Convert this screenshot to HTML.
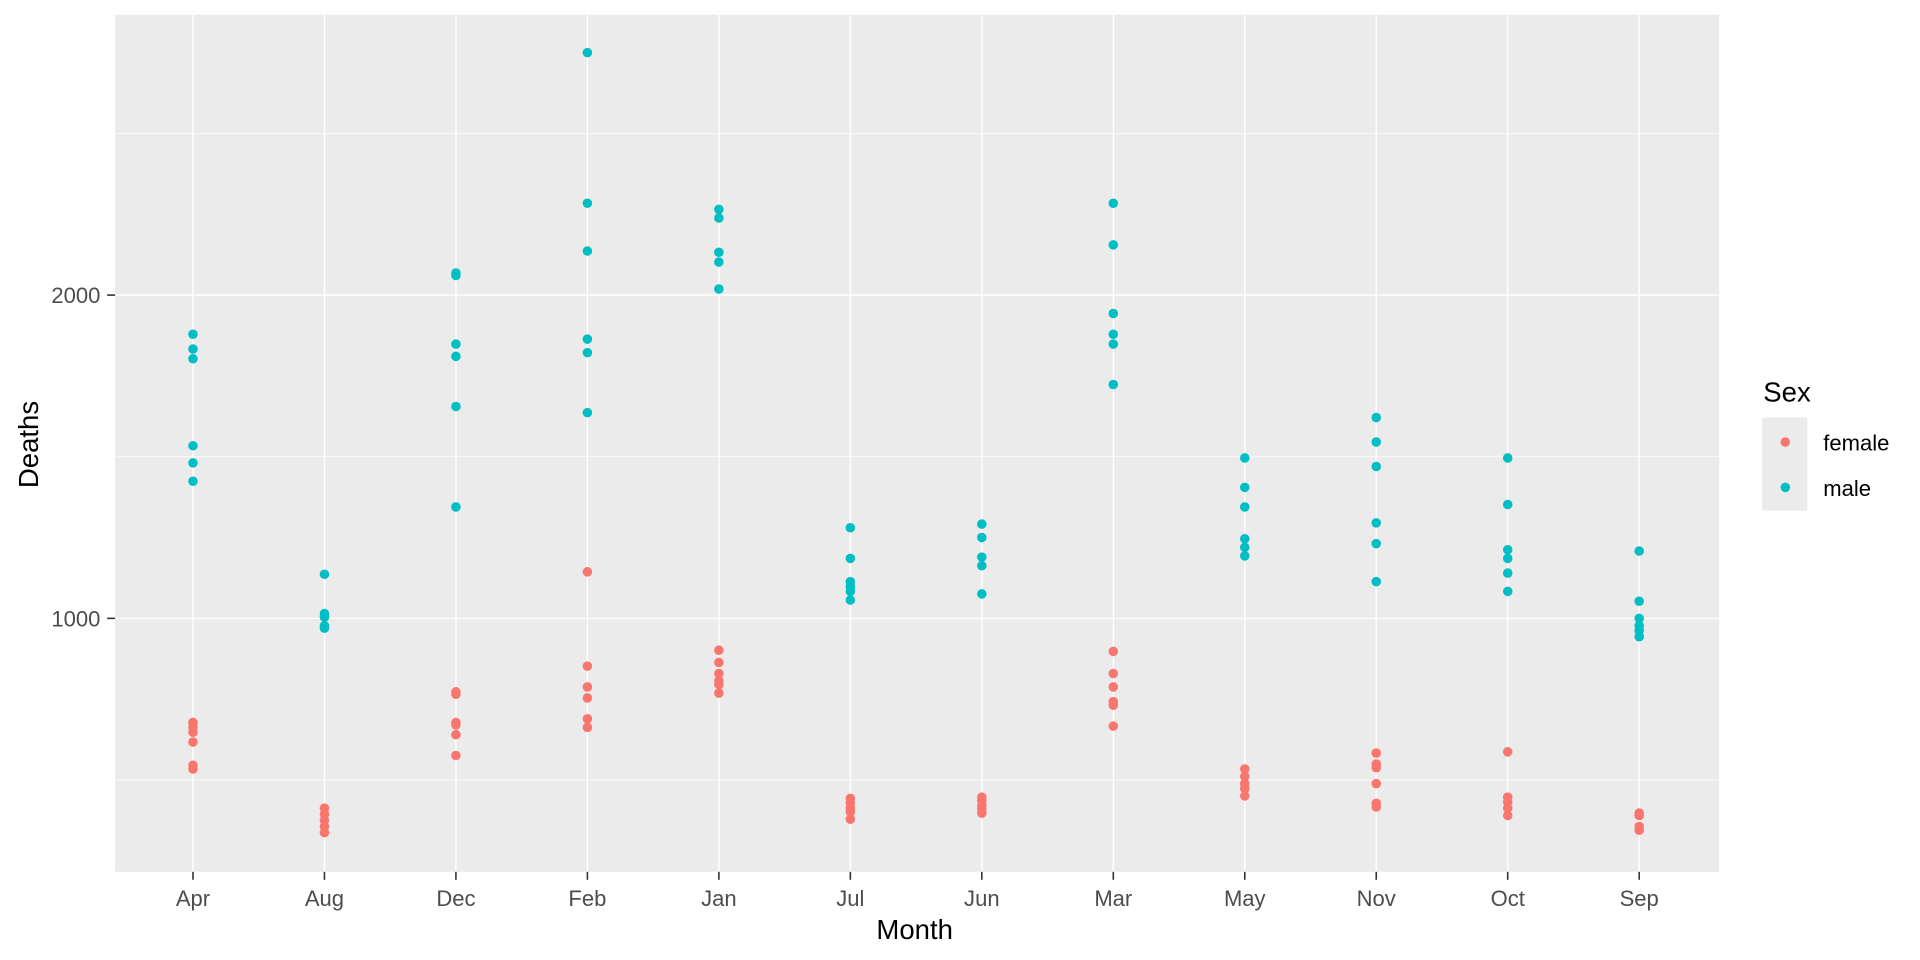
<!DOCTYPE html>
<html><head><meta charset="utf-8"><style>html,body{margin:0;padding:0;background:#fff}svg{display:block}</style></head>
<body>
<svg width="1920" height="960" viewBox="0 0 1568 784" xmlns="http://www.w3.org/2000/svg" font-family="Liberation Sans, Arial, sans-serif">
<rect x="94" y="12" width="1310" height="700" fill="#EBEBEB"/>
<g stroke="#fff" stroke-width="0.55">
<line x1="94" x2="1404" y1="109" y2="109"/><line x1="94" x2="1404" y1="373" y2="373"/><line x1="94" x2="1404" y1="637" y2="637"/>
</g>
<g stroke="#fff" stroke-width="1.1">
<line x1="94" x2="1404" y1="241" y2="241"/><line x1="94" x2="1404" y1="505" y2="505"/>
</g>
<g id="vg" stroke="#fff" stroke-width="1.1"></g>
<g id="pts"></g>
<g fill="#4D4D4D" font-size="18" text-anchor="end">
<text x="82" y="247.5">2000</text><text x="82" y="511.5">1000</text>
</g>
<g stroke="#333" stroke-width="1.3"><line x1="87.5" x2="94" y1="241" y2="241"/><line x1="87.5" x2="94" y1="505" y2="505"/></g>
<g id="xl" fill="#4D4D4D" font-size="18" text-anchor="middle"></g>
<text x="747" y="767" font-size="22.5" text-anchor="middle">Month</text>
<text transform="translate(31,363) rotate(-90)" font-size="22.5" text-anchor="middle">Deaths</text>
<text x="1440" y="328" font-size="22.5">Sex</text>
<rect x="1439" y="341" width="37" height="76" fill="#EBEBEB"/>
<circle cx="1458" cy="361" r="3.9" fill="#F8766D"/><circle cx="1458" cy="398" r="3.9" fill="#00BFC4"/>
<text x="1489" y="368" font-size="18">female</text><text x="1489" y="405" font-size="18">male</text>
<script>
var ns="http://www.w3.org/2000/svg";
var m=["Apr","Aug","Dec","Feb","Jan","Jul","Jun","Mar","May","Nov","Oct","Sep"];
var d={Apr:[[273,285,293,364,378,393],[590,594,598,606,625,628]],
Aug:[[469,501,504,511,513],[660,665,670,675,680]],
Dec:[[223,225,281,291,332,414],[565,567,590,592,600,617]],
Feb:[[43,166,205,277,288,337],[467,544,561,570,587,594]],
Jan:[[171,178,206,214,236],[531,541,550,556,559,566]],
Jul:[[431,456,475,479,483,490],[652,656,660,663,669]],
Jun:[[428,439,455,462,485],[651,654,658,661,664]],
Mar:[[166,200,256,273,281,314],[532,550,561,573,576,593]],
May:[[374,398,414,440,447,454],[628,634,640,644,650]],
Nov:[[341,361,381,427,444,475],[615,624,627,640,656,659]],
Oct:[[374,412,449,456,468,483],[614,651,655,660,666]],
Sep:[[450,491,505,511,515,520],[664,666,675,678]]};
function el(t,a,p){var e=document.createElementNS(ns,t);for(var k in a)e.setAttribute(k,a[k]);p.appendChild(e);return e;}
var vg=document.getElementById("vg"),pts=document.getElementById("pts"),xl=document.getElementById("xl"),svg=document.querySelector("svg");
m.forEach(function(n,i){var x=157.6+i*107.37;
el("line",{x1:x,x2:x,y1:12,y2:712},vg);
el("line",{x1:x,x2:x,y1:712,y2:718.5,stroke:"#333","stroke-width":1.3},svg);
var t=el("text",{x:x,y:740},xl);t.textContent=n;
d[n][1].forEach(function(y){el("circle",{cx:x,cy:y,r:3.9,fill:"#F8766D"},pts);});
d[n][0].forEach(function(y){el("circle",{cx:x,cy:y,r:3.9,fill:"#00BFC4"},pts);});
});
</script>
</svg>
</body></html>
